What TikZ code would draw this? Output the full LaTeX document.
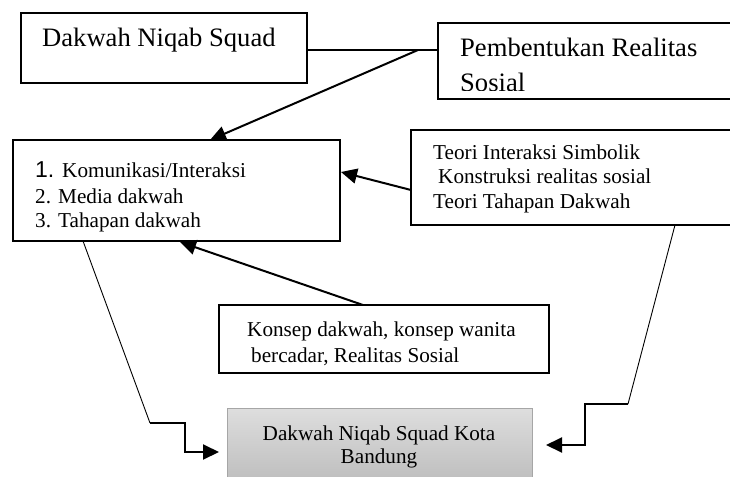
\documentclass[tikz,border=0pt]{standalone}
\usepackage{fontspec}
\setmainfont{Liberation Serif}
\newfontfamily\onefont{Liberation Sans}
\usetikzlibrary{arrows.meta,calc}
\tikzset{
  boxnode/.style={draw=black, line width=1.8pt, rectangle, inner sep=0pt, fill=white},
  graybox/.style={draw=black!35, line width=0.9pt, rectangle, inner sep=0pt, top color=black!13, bottom color=black!27},
  txt/.style={inner sep=0pt, anchor=base west, font=\fontsize{21.2}{25}\selectfont},
  bigtxt/.style={inner sep=0pt, anchor=base west, font=\fontsize{26.6}{32}\selectfont},
  ctxt/.style={inner sep=0pt, anchor=base, font=\fontsize{21.2}{25}\selectfont},
  arr/.style={line width=2pt, -{Triangle[length=16pt,width=15pt]}},
  thick line/.style={line width=2pt},
  thin line/.style={line width=0.9pt}
}
\begin{document}
\begin{tikzpicture}[x=1pt,y=-1pt]
\useasboundingbox (0,0) rectangle (730,476);
% boxes
\node[boxnode, minimum width=286pt, minimum height=70pt] (b1) at (164,48) {};
\node[boxnode, minimum width=307pt, minimum height=76pt] (b2) at (591.5,61) {};
\node[boxnode, minimum width=327pt, minimum height=101pt] (b3) at (176.5,190.5) {};
\node[boxnode, minimum width=334pt, minimum height=95pt] (b4) at (578,177.5) {};
\node[boxnode, minimum width=330pt, minimum height=68pt] (b5) at (384,339) {};
\node[graybox, minimum width=305pt, minimum height=82pt] (b6) at (379.5,449) {};
% texts
\node[bigtxt] (t1) at (42,47) {Dakwah Niqab Squad};
\node[bigtxt] (t2a) at (460,57) {Pembentukan Realitas};
\begin{scope}
\clip (438,60) rectangle (730,90.5);
\node[bigtxt] (t2b) at (460,92) {Sosial};
\end{scope}
\node[inner sep=0pt, anchor=base west, font=\onefont\fontsize{23}{25}\selectfont] (t3n) at (35,177) {1.};
\node[txt] (t3a) at (62,177) {Komunikasi/Interaksi};
\node[txt] (t3b) at (35,203) {2. Media dakwah};
\node[txt] (t3c) at (35,227) {3. Tahapan dakwah};
\node[txt] (t4a) at (433,159) {Teori Interaksi Simbolik};
\node[txt] (t4b) at (438,183) {Konstruksi realitas sosial};
\node[txt] (t4c) at (433,208) {Teori Tahapan Dakwah};
\node[txt] (t5a) at (247,336) {Konsep dakwah, konsep wanita};
\node[txt] (t5b) at (251,362) {bercadar, Realitas Sosial};
\node[ctxt] (t6a) at (379,440) {Dakwah Niqab Squad Kota};
\node[ctxt] (t6b) at (379,463) {Bandung};
% coordinates
\coordinate (j1) at (418,50);
\coordinate (p3top) at (210,140);
\coordinate (p4l) at (411,190);
\coordinate (p3r) at (341,172);
\coordinate (p5t) at (363,305);
\coordinate (p3b) at (180,242);
\coordinate (p3bl) at (83,241);
\coordinate (l1) at (150,423);
\coordinate (l2) at (185,423);
\coordinate (l3) at (185,452);
\coordinate (l4) at (219,452);
\coordinate (p4b) at (675,225);
\coordinate (r1) at (628,404);
\coordinate (r2) at (585,404);
\coordinate (r3) at (585,445);
\coordinate (r4) at (546,445);
% connectors
\draw[thick line] (b1.east |- j1) -- (b2.west |- j1);
\draw[arr] (j1) -- (p3top);
\draw[arr] (p4l) -- (p3r);
\draw[arr] (p5t) -- (p3b);
\draw[thin line] (p3bl) -- (l1);
\draw[arr] (l1) -- (l2) -- (l3) -- (l4);
\draw[thin line] (p4b) -- (r1);
\draw[arr] (r1) -- (r2) -- (r3) -- (r4);
\end{tikzpicture}
\end{document}
